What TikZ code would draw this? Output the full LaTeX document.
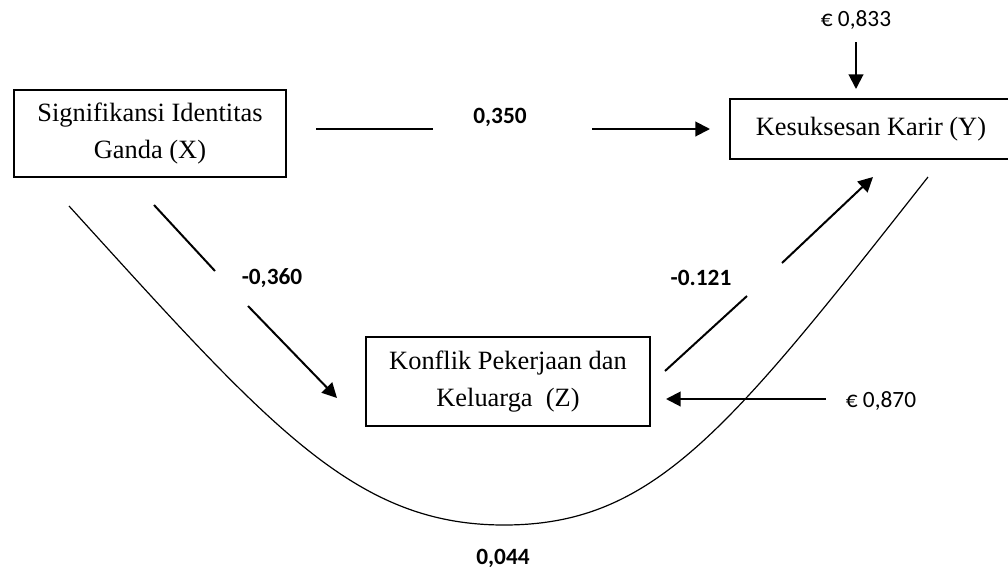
\documentclass[tikz,border=0pt]{standalone}
\usepackage{fontspec}
\setmainfont{Liberation Serif}
\newfontfamily\calibri{Carlito}
\usetikzlibrary{arrows.meta}

\begin{document}
\begin{tikzpicture}[
    x=0.75pt, y=-0.75pt,
    var/.style={draw, line width=1.1pt, minimum width=#1, inner sep=0pt,
        align=center, font=\fontsize{19.8}{28}\selectfont},
    coef/.style={font=\calibri\bfseries\fontsize{17.5}{20}\selectfont, inner sep=0pt},
    err/.style={font=\calibri\fontsize{17.5}{20}\selectfont, inner sep=0pt},
    link/.style={line width=1.5pt},
    linkarr/.style={line width=1.5pt, -{Triangle[length=11pt, width=11pt]}},
    curv/.style={line width=0.9pt}
]
\clip (0,0) rectangle (1008,572);

% variables
\node[var=204pt, minimum height=65.25pt] (X) at (150,133.5) {Signifikansi Identitas\\Ganda (X)};
\node[var=211.5pt, minimum height=45pt] (Y) at (871,129) {Kesuksesan Karir (Y)};
\node[var=213pt, minimum height=66.75pt] (Z) at (508,381.5) {Konflik Pekerjaan dan\\Keluarga~~(Z)};

% coefficients and errors
\node[coef] (pXY) at (500,117) {0,350};
\node[coef] (pXZ) at (272,278) {-0,360};
\node[coef] (pZY) at (701,278) {-0.121};
\node[coef] (pXZY) at (503,558) {0,044};
\node[err] (eY) at (856,20) {€ 0,833};
\node[err] (eZ) at (881,401) {€ 0,870};

% X -> Y
\coordinate (xy1) at (316,129);
\coordinate (xy2) at (433,129);
\coordinate (xy3) at (592,129);
\coordinate (xy4) at (710,129);
\draw[link] (xy1) -- (xy2);
\draw[linkarr] (xy3) -- (xy4);

% X -> Z
\coordinate (xz1) at (154,205);
\coordinate (xz2) at (215,271);
\coordinate (xz3) at (248,306);
\coordinate (xz4) at (337,398);
\draw[link] (xz1) -- (xz2);
\draw[linkarr] (xz3) -- (xz4);

% Z -> Y
\coordinate (zy1) at (665,371);
\coordinate (zy2) at (747,296);
\coordinate (zy3) at (782,263);
\coordinate (zy4) at (873,177);
\draw[link] (zy1) -- (zy2);
\draw[linkarr] (zy3) -- (zy4);

% errors
\coordinate (eY1) at (856,42);
\coordinate (eY2) at (856,89);
\draw[linkarr] (eY1) -- (eY2);
\coordinate (eZ1) at (826,399);
\coordinate (eZ2) at (666,399);
\draw[linkarr] (eZ1) -- (eZ2);

% X .. Y curve
\coordinate (c1) at (69,206);
\coordinate (c2) at (504,525);
\coordinate (c3) at (928,177);
\draw[curv] (c1) .. controls (269,426) and (354,525) .. (c2)
    .. controls (654,525) and (728,431) .. (c3);

\end{tikzpicture}
\end{document}
